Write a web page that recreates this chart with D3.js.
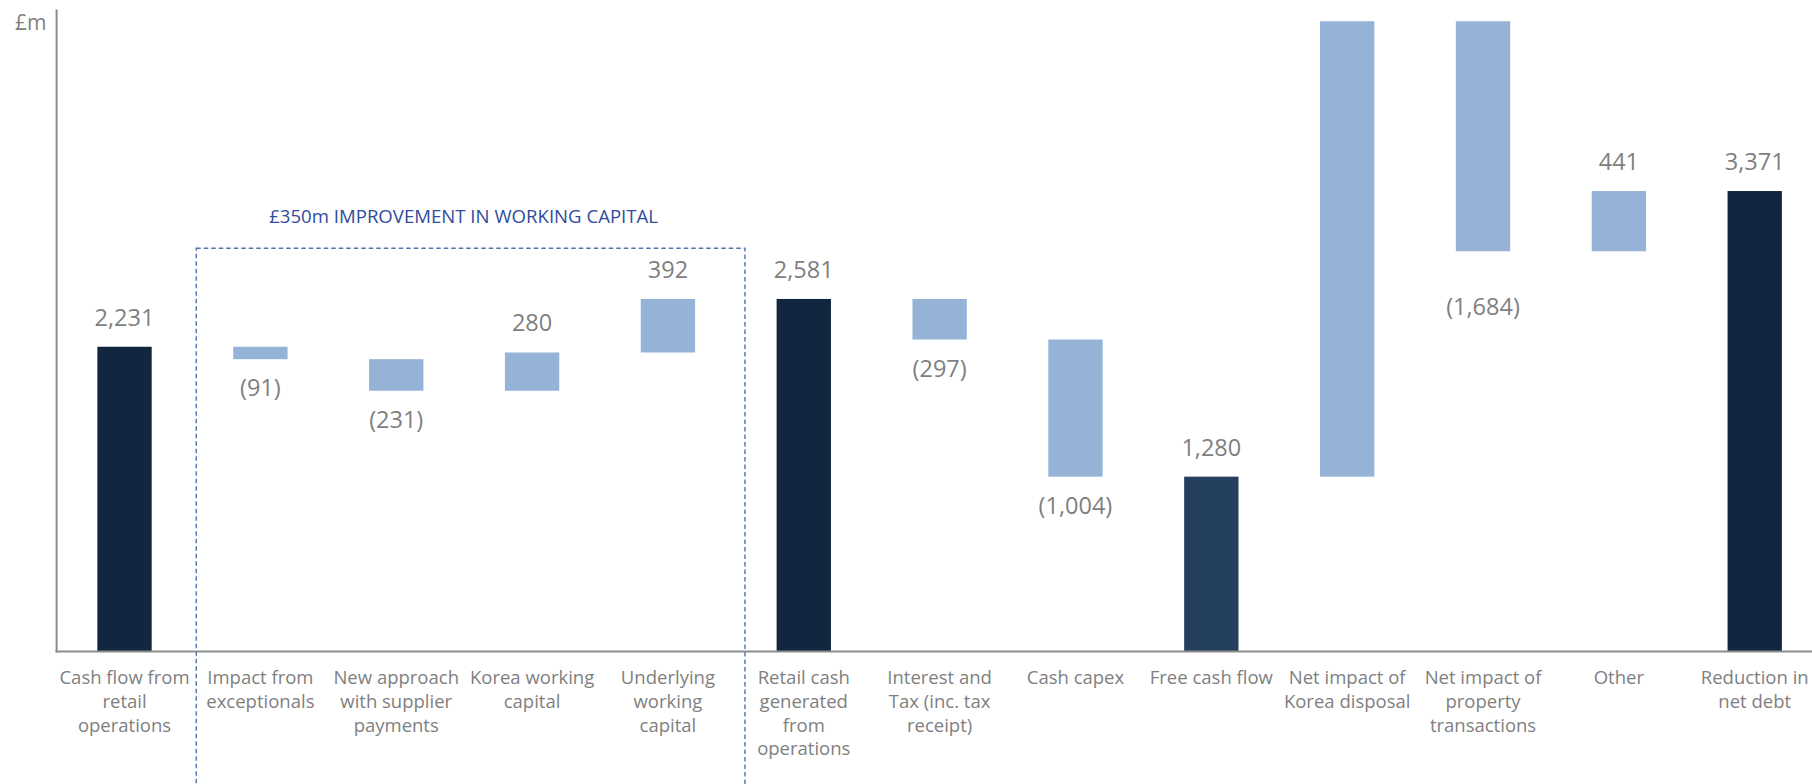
<!DOCTYPE html>
<html>
<head>
<meta charset="utf-8">
<script src="https://cdn.jsdelivr.net/npm/d3@7"></script>
<style>
  html, body { margin: 0; padding: 0; background: #ffffff; }
  svg { display: block; }
  text { font-family: "Open Sans", "Noto Sans", sans-serif; }
</style>
</head>
<body>
<svg id="chart" width="1812" height="784"></svg>
<script>
// Cash flow bridge, £m
const categories = [
  "Cash flow from retail operations",
  "Impact from exceptionals",
  "New approach with supplier payments",
  "Korea working capital",
  "Underlying working capital",
  "Retail cash generated from operations",
  "Interest and Tax (inc. tax receipt)",
  "Cash capex",
  "Free cash flow",
  "Net impact of Korea disposal",
  "Net impact of property transactions",
  "Other",
  "Reduction in net debt"
];
// How each category is written under the axis, one entry per line
const categoryLines = [
  ["Cash flow from", "retail", "operations"],
  ["Impact from", "exceptionals"],
  ["New approach", "with supplier", "payments"],
  ["Korea working", "capital"],
  ["Underlying", "working", "capital"],
  ["Retail cash", "generated", "from", "operations"],
  ["Interest and", "Tax (inc. tax", "receipt)"],
  ["Cash capex"],
  ["Free cash flow"],
  ["Net impact of", "Korea disposal"],
  ["Net impact of", "property", "transactions"],
  ["Other"],
  ["Reduction in", "net debt"]
];
// Movement for each step; totals hold the running balance
const values = [2231, -91, -231, 280, 392, 2581, -297, -1004, 1280, 3334, -1684, 441, 3371];
const barKinds = ["total", "step", "step", "step", "step", "total", "step", "step", "subtotal", "step", "step", "step", "total"];
const valueLabels = ["2,231", "(91)", "(231)", "280", "392", "2,581", "(297)", "(1,004)", "1,280", "", "(1,684)", "441", "3,371"];
const unitLabel = "£m";
const groupTitle = "£350m IMPROVEMENT IN WORKING CAPITAL";
const groupFirst = "Impact from exceptionals";
const groupLast = "Underlying working capital";
const yMax = 4700;

const colors = { total: "#13263f", subtotal: "#253f5f", step: "#95b3d7" };
// Extra drop for a label that would otherwise crowd its neighbours
const labelDrop = { "Net impact of property transactions": 27 };
const svg = d3.select("#chart");

const plotLeft = 56.6, plotTop = 9.5, axisY = 651.5;
const step = 135.85;

const x = d3.scaleBand()
  .domain(categories)
  .range([plotLeft, plotLeft + categories.length * step])
  .paddingInner(0.6)
  .paddingOuter(0.3);
const y = d3.scaleLinear().domain([0, yMax]).range([axisY, plotTop]);

// Floating segments: totals start at zero, steps start from the running balance
let running = 0;
const bars = categories.map((c, i) => {
  const v = values[i];
  let y0, y1;
  if (barKinds[i] === "step") { y0 = running; y1 = running + v; running = y1; }
  else { y0 = 0; y1 = v; running = v; }
  return { c, v, kind: barKinds[i], lo: Math.min(y0, y1), hi: Math.max(y0, y1), label: valueLabels[i] };
});

// Working capital bracket
const bx0 = x(groupFirst) - 0.272 * step;
const bx1 = x(groupLast) + x.bandwidth() + 0.367 * step;
const by0 = 248.3;
svg.append("rect")
  .attr("x", bx0).attr("y", by0)
  .attr("width", bx1 - bx0).attr("height", 600)
  .attr("fill", "none")
  .attr("stroke", "#5274a8")
  .attr("stroke-width", 1.4)
  .attr("stroke-dasharray", "4.5,3");
svg.append("text")
  .attr("x", (bx0 + bx1) / 2 - 7).attr("y", 223.3)
  .attr("text-anchor", "middle")
  .attr("fill", "#2f4c9e")
  .style("font-size", "18.6px")
  .text(groupTitle);

// Bars
svg.append("g").selectAll("rect")
  .data(bars)
  .join("rect")
  .attr("x", d => x(d.c))
  .attr("width", x.bandwidth())
  .attr("y", d => y(d.hi))
  .attr("height", d => y(d.lo) - y(d.hi))
  .attr("fill", d => colors[d.kind]);

// Value labels: above rising bars, below falling ones
svg.append("g").selectAll("text")
  .data(bars.filter(d => d.label))
  .join("text")
  .attr("x", d => x(d.c) + x.bandwidth() / 2)
  .attr("y", d => d.v < 0 ? y(d.lo) + 37 + (labelDrop[d.c] || 0) : y(d.hi) - 21)
  .attr("text-anchor", "middle")
  .attr("fill", "#7f7f7f")
  .style("font-size", "23.5px")
  .text(d => d.label);

// Axes
svg.append("line")
  .attr("x1", plotLeft).attr("x2", plotLeft)
  .attr("y1", plotTop).attr("y2", axisY + 1)
  .attr("stroke", "#8c8c8c").attr("stroke-width", 2);
svg.append("line")
  .attr("x1", plotLeft - 1).attr("x2", 1812)
  .attr("y1", axisY).attr("y2", axisY)
  .attr("stroke", "#8c8c8c").attr("stroke-width", 2);

svg.append("text")
  .attr("x", 46.5).attr("y", 30)
  .attr("text-anchor", "end")
  .attr("fill", "#7f7f7f")
  .style("font-size", "21px")
  .text(unitLabel);

// Category labels
const cat = svg.append("g").selectAll("text")
  .data(categories)
  .join("text")
  .attr("x", d => x(d) + x.bandwidth() / 2)
  .attr("y", 684.3)
  .attr("text-anchor", "middle")
  .attr("fill", "#7f7f7f")
  .style("font-size", "18.5px");
cat.each(function(d, i) {
  d3.select(this).selectAll("tspan")
    .data(categoryLines[i])
    .join("tspan")
    .attr("x", x(d) + x.bandwidth() / 2)
    .attr("dy", (t, j) => j === 0 ? 0 : 23.7)
    .text(t => t);
});
</script>
</body>
</html>
